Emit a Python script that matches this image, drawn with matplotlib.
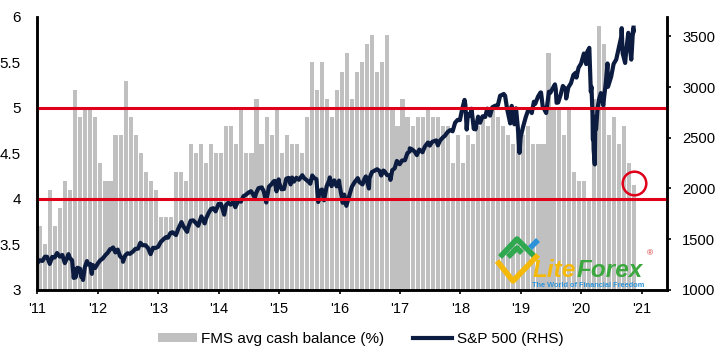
import matplotlib.pyplot as plt
import matplotlib.transforms as mtransforms
from matplotlib.patches import Patch
from matplotlib.lines import Line2D
import numpy as np
import pandas as pd

plt.rcParams['font.family'] = ['Liberation Sans', 'DejaVu Sans']

# FMS average cash balance (%), monthly Jan 2011 - Nov 2020
cash_2011 = [3.7, 3.5, 4.1, 3.7, 3.9, 4.2, 4.1, 5.2, 4.9, 5.0, 5.0, 4.9]
cash_2012 = [4.4, 4.2, 4.2, 4.7, 4.7, 5.3, 4.9, 4.7, 4.5, 4.3, 4.2, 4.1]
cash_2013 = [3.8, 3.8, 3.8, 4.3, 4.3, 4.2, 4.6, 4.5, 4.6, 4.4, 4.6, 4.5]
cash_2014 = [4.5, 4.8, 4.8, 4.6, 5.0, 4.5, 4.5, 5.1, 4.6, 4.9, 4.7, 5.0]
cash_2015 = [4.5, 4.7, 4.6, 4.6, 4.5, 4.9, 5.5, 5.2, 5.5, 5.1, 4.9, 5.2]
cash_2016 = [5.4, 5.6, 5.1, 5.4, 5.5, 5.7, 5.8, 5.4, 5.5, 5.8, 5.0, 4.8]
cash_2017 = [5.1, 4.9, 4.8, 4.9, 4.9, 5.0, 4.9, 4.9, 4.8, 4.8, 4.4, 4.7]
cash_2018 = [4.4, 4.7, 4.6, 4.8, 4.9, 4.8, 5.0, 4.9, 4.8, 4.7, 4.6, 4.7]
cash_2019 = [4.7, 4.8, 4.6, 4.6, 4.6, 5.6, 5.0, 5.0, 4.7, 5.0, 4.3, 4.2]
cash_2020 = [4.2, 4.0, 5.1, 5.9, 5.7, 4.7, 4.9, 4.6, 4.8, 4.4, 4.15]
cash = (cash_2011 + cash_2012 + cash_2013 + cash_2014 + cash_2015 + cash_2016
        + cash_2017 + cash_2018 + cash_2019 + cash_2020)

# S&P 500 (roughly twice a month plus turning points)
sp_dates = [
    '2011-01-03', '2011-01-14', '2011-01-31', '2011-02-15', '2011-02-28', '2011-03-16', '2011-03-31',
    '2011-04-15', '2011-04-29', '2011-05-16', '2011-05-31', '2011-06-15', '2011-06-30', '2011-07-07',
    '2011-07-15', '2011-07-29', '2011-08-08', '2011-08-15', '2011-08-19', '2011-08-31', '2011-09-15',
    '2011-09-22', '2011-09-30', '2011-10-03', '2011-10-14', '2011-10-27', '2011-10-31', '2011-11-15',
    '2011-11-25', '2011-11-30', '2011-12-15', '2011-12-30',
    '2012-01-13', '2012-01-31', '2012-02-15', '2012-02-29', '2012-03-15', '2012-03-30', '2012-04-02',
    '2012-04-16', '2012-04-30', '2012-05-15', '2012-05-31', '2012-06-01', '2012-06-15', '2012-06-29',
    '2012-07-13', '2012-07-31', '2012-08-15', '2012-08-31', '2012-09-14', '2012-09-28', '2012-10-15',
    '2012-10-31', '2012-11-15', '2012-11-30', '2012-12-14', '2012-12-31',
    '2013-01-15', '2013-01-31', '2013-02-15', '2013-02-28', '2013-03-15', '2013-03-28', '2013-04-18',
    '2013-04-30', '2013-05-21', '2013-05-31', '2013-06-24', '2013-06-28', '2013-07-15', '2013-07-31',
    '2013-08-15', '2013-08-30', '2013-09-18', '2013-09-30', '2013-10-08', '2013-10-15', '2013-10-31',
    '2013-11-15', '2013-11-29', '2013-12-13', '2013-12-31',
    '2014-01-15', '2014-02-03', '2014-02-14', '2014-02-28', '2014-03-14', '2014-03-31', '2014-04-11',
    '2014-04-30', '2014-05-15', '2014-05-30', '2014-06-13', '2014-06-30', '2014-07-15', '2014-07-31',
    '2014-08-07', '2014-08-15', '2014-08-29', '2014-09-18', '2014-09-30', '2014-10-15', '2014-10-31',
    '2014-11-14', '2014-11-28', '2014-12-05', '2014-12-16', '2014-12-29', '2014-12-31',
    '2015-01-15', '2015-01-30', '2015-02-13', '2015-02-27', '2015-03-11', '2015-03-20', '2015-03-31',
    '2015-04-15', '2015-04-30', '2015-05-21', '2015-05-29', '2015-06-15', '2015-06-30', '2015-07-08',
    '2015-07-20', '2015-07-31', '2015-08-14', '2015-08-25', '2015-08-31', '2015-09-17', '2015-09-29',
    '2015-10-15', '2015-10-30', '2015-11-03', '2015-11-13', '2015-11-30', '2015-12-14', '2015-12-29',
    '2015-12-31',
    '2016-01-20', '2016-01-29', '2016-02-11', '2016-02-29', '2016-03-15', '2016-03-31', '2016-04-20',
    '2016-04-29', '2016-05-19', '2016-05-31', '2016-06-08', '2016-06-27', '2016-06-30', '2016-07-15',
    '2016-07-29', '2016-08-15', '2016-08-31', '2016-09-09', '2016-09-22', '2016-09-30', '2016-10-14',
    '2016-10-31', '2016-11-04', '2016-11-15', '2016-11-30', '2016-12-13', '2016-12-30',
    '2017-01-13', '2017-01-31', '2017-02-15', '2017-02-28', '2017-03-01', '2017-03-15', '2017-03-31',
    '2017-04-13', '2017-04-28', '2017-05-17', '2017-05-31', '2017-06-19', '2017-06-30', '2017-07-14',
    '2017-07-31', '2017-08-08', '2017-08-18', '2017-08-31', '2017-09-15', '2017-09-29', '2017-10-16',
    '2017-10-31', '2017-11-15', '2017-11-30', '2017-12-15', '2017-12-29',
    '2018-01-12', '2018-01-26', '2018-01-31', '2018-02-08', '2018-02-15', '2018-02-28', '2018-03-09',
    '2018-03-23', '2018-03-29', '2018-04-02', '2018-04-18', '2018-04-30', '2018-05-15', '2018-05-31',
    '2018-06-12', '2018-06-29', '2018-07-13', '2018-07-31', '2018-08-15', '2018-08-29', '2018-09-20',
    '2018-09-28', '2018-10-10', '2018-10-29', '2018-10-31', '2018-11-07', '2018-11-23', '2018-11-30',
    '2018-12-03', '2018-12-14', '2018-12-24', '2018-12-31',
    '2019-01-15', '2019-01-31', '2019-02-15', '2019-02-28', '2019-03-08', '2019-03-21', '2019-03-29',
    '2019-04-15', '2019-04-30', '2019-05-03', '2019-05-13', '2019-05-31', '2019-06-03', '2019-06-20',
    '2019-06-28', '2019-07-26', '2019-07-31', '2019-08-05', '2019-08-15', '2019-08-30', '2019-09-12',
    '2019-09-30', '2019-10-02', '2019-10-15', '2019-10-31', '2019-11-15', '2019-11-29', '2019-12-03',
    '2019-12-16', '2019-12-31',
    '2020-01-17', '2020-01-31', '2020-02-06', '2020-02-19', '2020-02-28', '2020-03-03', '2020-03-09',
    '2020-03-12', '2020-03-13', '2020-03-16', '2020-03-23', '2020-03-26', '2020-03-31', '2020-04-09',
    '2020-04-17', '2020-04-29', '2020-05-13', '2020-05-29', '2020-06-08', '2020-06-11', '2020-06-30',
    '2020-07-15', '2020-07-31', '2020-08-14', '2020-08-31', '2020-09-02', '2020-09-08', '2020-09-23',
    '2020-09-30', '2020-10-12', '2020-10-30', '2020-11-03', '2020-11-09', '2020-11-11', '2020-11-12',
    '2020-11-13',
]
sp_values = [
    1271, 1293, 1286, 1328, 1327, 1257, 1326,
    1320, 1364, 1329, 1345, 1265, 1321, 1353,
    1316, 1292, 1119, 1204, 1124, 1219, 1209,
    1129, 1131, 1099, 1225, 1285, 1253, 1258,
    1159, 1247, 1216, 1258,
    1289, 1312, 1343, 1366, 1402, 1408, 1419,
    1370, 1398, 1330, 1310, 1278, 1342, 1362,
    1356, 1379, 1405, 1407, 1465, 1441, 1441,
    1412, 1353, 1416, 1413, 1426,
    1472, 1498, 1520, 1515, 1561, 1569, 1541,
    1598, 1669, 1631, 1573, 1606, 1682, 1686,
    1661, 1633, 1725, 1682, 1656, 1698, 1757,
    1798, 1806, 1775, 1848,
    1848, 1742, 1838, 1859, 1841, 1872, 1816,
    1884, 1870, 1924, 1937, 1960, 1973, 1931,
    1910, 1955, 2003, 2011, 1972, 1862, 2018,
    2039, 2068, 2075, 1972, 2090, 2059,
    1993, 1995, 2097, 2105, 2040, 2108, 2068,
    2106, 2086, 2131, 2107, 2084, 2063, 2047,
    2128, 2104, 2092, 1867, 1972, 1990, 1884,
    2023, 2079, 2109, 2023, 2080, 2021, 2078,
    2044,
    1859, 1940, 1829, 1932, 2015, 2060, 2102,
    2065, 2040, 2097, 2119, 2000, 2099, 2162,
    2174, 2190, 2171, 2128, 2177, 2168, 2133,
    2126, 2085, 2180, 2199, 2271, 2239,
    2275, 2279, 2349, 2364, 2396, 2385, 2363,
    2329, 2384, 2357, 2412, 2453, 2423, 2459,
    2470, 2474, 2425, 2472, 2500, 2519, 2557,
    2575, 2564, 2648, 2676, 2674,
    2786, 2873, 2824, 2581, 2732, 2714, 2786,
    2588, 2641, 2582, 2708, 2648, 2711, 2705,
    2787, 2718, 2801, 2816, 2819, 2914, 2931,
    2914, 2786, 2641, 2712, 2814, 2633, 2760,
    2790, 2600, 2351, 2507,
    2610, 2704, 2775, 2784, 2743, 2855, 2834,
    2906, 2946, 2946, 2812, 2752, 2744, 2954,
    2942, 3026, 2980, 2844, 2848, 2926, 3010,
    2977, 2887, 2996, 3038, 3120, 3141, 3093,
    3191, 3231,
    3330, 3226, 3345, 3386, 2954, 3003, 2747,
    2481, 2711, 2386, 2237, 2630, 2585, 2790,
    2875, 2940, 2820, 3044, 3232, 3002, 3100,
    3227, 3271, 3373, 3500, 3580, 3332, 3237,
    3363, 3534, 3270, 3370, 3550, 3572, 3537,
    3585,
]

years = list(range(2011, 2022))
year_labels = ["'" + str(y)[2:] for y in years]
signal_levels = [4.0, 5.0]

# positions
bar_x = 2011 + (np.arange(len(cash)) + 0.5) / 12
d = pd.to_datetime(sp_dates)
sp_x = d.year + (d.dayofyear - 1) / np.where(d.is_leap_year, 366, 365)

fig = plt.figure(figsize=(7.17, 3.53), dpi=100)
ax = fig.add_axes([0.0523, 0.1785, 0.878, 0.7734])
ax2 = ax.twinx()

grey = '#c0c0c0'
navy = '#0c1c40'
red = '#e0001a'

ax.bar(bar_x, cash, width=0.82 / 12, color=grey, linewidth=0)
ax.set_ylim(3, 6)
ax.set_xlim(2011, 2021.42)
ax.set_yticks([3, 3.5, 4, 4.5, 5, 5.5, 6])
ax.set_yticklabels(['3', '3.5', '4', '4.5', '5', '5.5', '6'])
ax.set_xticks(years)
ax.set_xticklabels(year_labels)
ax.tick_params(axis='y', length=0, pad=12, labelsize=11)
ax.tick_params(axis='x', length=3, width=1.2, pad=6, labelsize=10.5)

ax2.plot(sp_x, sp_values, color=navy, lw=3, solid_joinstyle='round')
ax2.set_ylim(1000, 3690)
ax2.set_yticks([1000, 1500, 2000, 2500, 3000, 3500])
ax2.tick_params(axis='y', length=3, width=1.2, pad=8, labelsize=10.6)

# red signal lines on top of everything
tr = mtransforms.blended_transform_factory(ax2.transAxes, ax.transData)
for lvl in signal_levels:
    ax2.plot([0, 1], [lvl, lvl], transform=tr, color=red, lw=2.2, clip_on=False)

# circle round the latest reading
circ_tr = mtransforms.blended_transform_factory(ax.transData, ax.transData)
ax2.plot([bar_x[-1]], [cash[-1] + 0.03], transform=circ_tr, marker='o', ms=17,
         mfc='none', mec=red, mew=1.8)

for a in (ax, ax2):
    a.spines['top'].set_visible(False)
    for s in ('left', 'right', 'bottom'):
        a.spines[s].set_linewidth(1.8)
        a.spines[s].set_color('black')

# legend
handles = [Patch(facecolor=grey, edgecolor='none'), Line2D([], [], color=navy, lw=3)]
fig.legend(handles, ['FMS avg cash balance (%)', 'S&P 500 (RHS)'], loc='lower center',
           bbox_to_anchor=(0.503, -0.018), ncol=2, frameon=False, fontsize=11,
           handlelength=2.55, handleheight=0.55, handletextpad=0.3, columnspacing=1.9)

# watermark
def px(x, y):
    return x / 717, 1 - y / 353

for pts, col in [([(500, 257), (517, 239), (534, 256)], '#2fa84f'),
                 ([(508, 257), (517, 248), (522, 253)], '#2fa84f'),
                 ([(497, 261), (513, 281), (538, 255)], '#f5b90a'),
                 ([(530, 248), (538, 240)], '#2c93d8')]:
    xs, ys = zip(*[px(*p) for p in pts])
    fig.add_artist(Line2D(xs, ys, color=col, lw=4, solid_capstyle='butt'))

t1 = fig.text(*px(533, 277), 'Lite', color='#f5b90a', fontsize=17.5,
              fontweight='bold', fontstyle='italic', va='baseline', ha='left')
t2 = ax.annotate('Forex', xy=(1, 0), xycoords=t1, color='#3aa83c', fontsize=17.5,
                 fontweight='bold', fontstyle='italic', va='bottom', ha='left')
fig.text(*px(647, 255), '®', color='#d42a2a', fontsize=6, ha='left')
fig.text(*px(588, 285.5), 'The World of Financial Freedom', color='#2c93d8', fontsize=5.3,
         fontweight='bold', ha='center', va='center')

fig.savefig('out.png', dpi=100)
